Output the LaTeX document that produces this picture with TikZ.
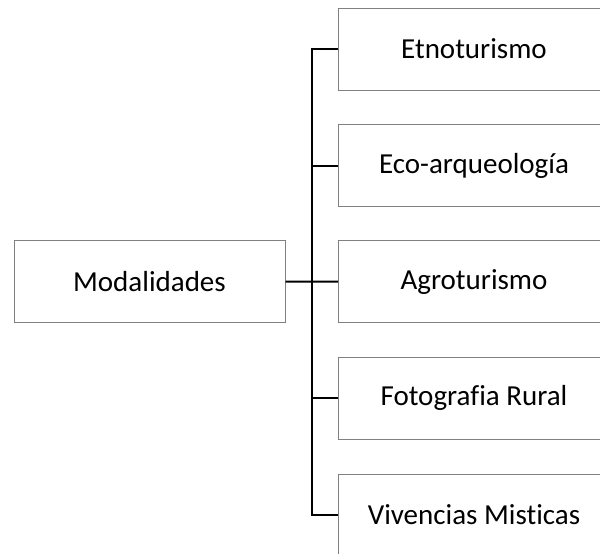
\documentclass[tikz,border=0pt]{standalone}
\usepackage{fontspec}
\setmainfont{Carlito}[Ligatures={NoCommon,NoRare}]
\begin{document}
\begin{tikzpicture}[x=1pt,y=-1pt,
  box/.style={draw=black!50,line width=1pt,fill=white,inner sep=0pt,
    minimum height=82pt,font=\fontsize{29}{34}\selectfont},
  leftbox/.style={box,minimum width=271pt},
  rightbox/.style={box,minimum width=271pt},
  conn/.style={draw=black,line width=2pt}]
\useasboundingbox (0,0) rectangle (600,554);
\clip (0,0) rectangle (600,554);
\node[leftbox] (m) at (149.5,281.5) {Modalidades};
\node[rightbox] (r1) at (474,49) {Etnoturismo};
\node[rightbox] (r2) at (474,165.7) {Eco-arqueología};
\node[rightbox] (r3) at (474,281.7) {Agroturismo};
\node[rightbox] (r4) at (474,398.3) {Fotografia Rural};
\node[rightbox] (r5) at (474,515) {Vivencias Misticas};
\coordinate (j) at (312,281.5);
\draw[conn] (m.east) -- (r3.west);
\draw[conn,line join=miter] (r1.west) -| (j) |- (r5.west);
\draw[conn] (j) |- (r2.west);
\draw[conn] (j) |- (r4.west);
\end{tikzpicture}
\end{document}
